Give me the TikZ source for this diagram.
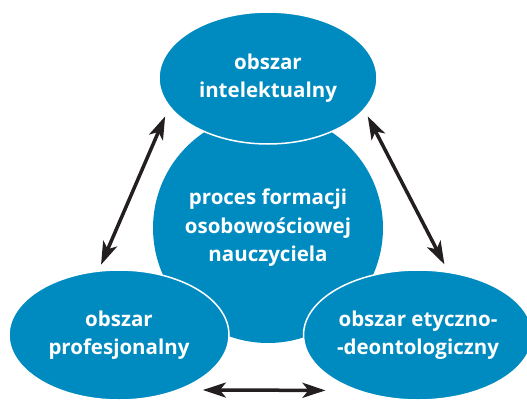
\documentclass[tikz,border=0pt]{standalone}
\usepackage{fontspec}
\setmainfont{Open Sans}
\usetikzlibrary{shapes.geometric,arrows.meta}
\definecolor{blue}     {rgb}{0,0.545,0.753}
\definecolor{arrowgrey}{rgb}{0.137,0.122,0.125}
\tikzset{
obszar/.style={ellipse, fill=blue, draw=white, line width=1.5pt, minimum width=218pt, minimum height=132pt, inner sep=0pt, outer sep=0pt, text=white, align=center, font=\fontsize{20.5}{28.5}\selectfont\bfseries},
proces/.style={circle, fill=blue, minimum size=230pt, inner sep=0pt, outer sep=0pt, text=white, align=center, font=\fontsize{20.5}{28.5}\selectfont\bfseries},
biarrow/.style={{Stealth[length=23pt,width=15pt,inset=6pt]}-{Stealth[length=23pt,width=15pt,inset=6pt]}, line width=3.5pt, draw=arrowgrey},
}

\begin{document}
\begin{tikzpicture}[x=1pt,y=-1pt]
\useasboundingbox (0,0) rectangle (527,401);
% central circle first, the three areas lie over it
\node [proces] (formacja) at (268,228) {proces formacji\\osobowościowej\\nauczyciela};
\node [obszar] (intel) at (268,78) {obszar\\intelektualny};
\node [obszar, minimum width=220pt, minimum height=130pt] (prof) at (119,335) {obszar\\profesjonalny};
\node [obszar, minimum height=130pt] (etyk) at (418,335) {obszar etyczno-\\-deontologiczny};
% arrows between the areas
\draw [biarrow, shorten <=11pt, shorten >=7pt] (intel.196) -- (prof.108);
\draw [biarrow, shorten <=8pt, shorten >=9pt] (intel.342) -- (etyk.64);
\draw [biarrow, shorten <=25pt, shorten >=33pt] (prof.-43.2) -- (etyk.223.4);
\end{tikzpicture}
\end{document}
